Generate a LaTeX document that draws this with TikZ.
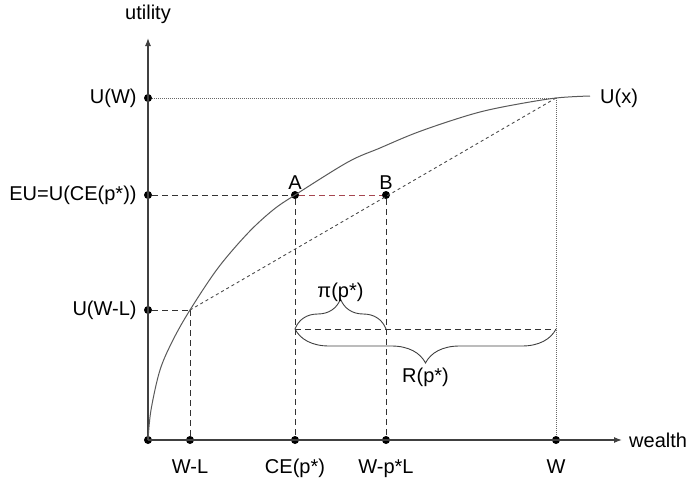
\documentclass[tikz,border=0pt]{standalone}
\usepackage{fontspec}
\setmainfont{Liberation Sans}
\usepackage{xcolor}
\usepackage{tikz}
\usetikzlibrary{arrows.meta, positioning, decorations.pathreplacing}
\definecolor{chordred}{RGB}{165,70,80}
\tikzset{
  axis/.style    ={line width=1.2pt, black!75, -{Latex[length=8pt,width=6pt]}},
  dot/.style     ={circle, fill=black, inner sep=0pt, minimum size=8pt},
  guide/.style   ={line width=0.9pt, black!80, dash pattern=on 6pt off 4pt},
  fine/.style    ={line width=0.9pt, black!60, dash pattern=on 1pt off 1pt},
  chord/.style   ={line width=0.9pt, black!70, dash pattern=on 3pt off 3pt},
  ucurve/.style  ={line width=1pt, black!65},
  bracket/.style ={line width=0.9pt, black!75, decorate,
                   decoration={brace, aspect=0.5}},
  lbl/.style     ={font=\fontsize{20}{24}\selectfont, text=black, inner sep=1pt}
}
\begin{document}
\begin{tikzpicture}[x=1pt, y=-1pt]
\useasboundingbox (0,0) rectangle (689,482);

% Points on the axes
\node[dot] (O)   at (148,440) {};
\node[dot] (uw)  at (148,98)  {};
\node[dot] (eu)  at (148,195) {};
\node[dot] (uwl) at (148,310) {};
\node[dot] (xwl) at (190,440) {};
\node[dot] (xce) at (295,440) {};
\node[dot] (xb)  at (386,440) {};
\node[dot] (xw)  at (556,440) {};

% Points on the curve and the chord
\node[dot] (A) at (295,195) {};
\node[dot] (B) at (386,195) {};
\coordinate (top) at (556,98);
\coordinate (low) at (190,310);
\coordinate (ra)  at (295,329);
\coordinate (pb)  at (386,329);
\coordinate (rb)  at (556,329);
\coordinate (yend) at (148,38);
\coordinate (xend) at (622,440);

% Axes
\draw[axis] (O.center) -- (yend);
\draw[axis] (O.center) -- (xend);

% Guide lines
\draw[fine] (uw) -- (top);
\draw[fine] (top) -- (xw);
\draw[guide] (eu) -- (A);
\draw[guide, chordred] (A) -- (B);
\draw[guide] (uwl) -- (low);
\draw[guide] (low) -- (xwl);
\draw[guide] (A) -- (xce);
\draw[guide] (B) -- (xb);
\draw[guide] (ra) -- (rb);
\draw[chord] (low) -- (top);

% Utility curve
\draw[ucurve] plot[smooth, tension=0.55] coordinates {
  (148,440) (151,410) (160,370) (173,340) (190,310) (218,268) (248,233)
  (273,210) (295,195) (348,162) (380,148) (413,134) (447,122) (480,112)
  (513,105) (556,98) (590,96)};

% Braces
\draw[bracket, decoration={amplitude=30pt}] (ra) -- (pb)
  node[lbl, midway, above=26pt] (pi) {π(p*)};
\draw[bracket, decoration={amplitude=34pt}] (rb) -- (ra)
  node[lbl, midway, below=38pt] (R) {R(p*)};

% Labels
\node[lbl, above=0pt of A] (la) {A};
\node[lbl, above=0pt of B] (lb) {B};
\node[lbl] (lu) at (148,14) {utility};
\node[lbl, anchor=west] (lw) at (628,440) {wealth};
\node[lbl, anchor=west] (lx) at (599,98) {U(x)};
\node[lbl, left=6pt of uw]  (luw)  {U(W)};
\node[lbl, left=6pt of eu]  (leu)  {EU=U(CE(p*))};
\node[lbl, left=6pt of uwl] (luwl) {U(W-L)};
\node[lbl, below=14pt of xwl] (lxwl) {W-L};
\node[lbl, below=14pt of xce] (lxce) {CE(p*)};
\node[lbl, below=14pt of xb]  (lxb)  {W-p*L};
\node[lbl, below=14pt of xw]  (lxw)  {W};
\end{tikzpicture}
\end{document}
